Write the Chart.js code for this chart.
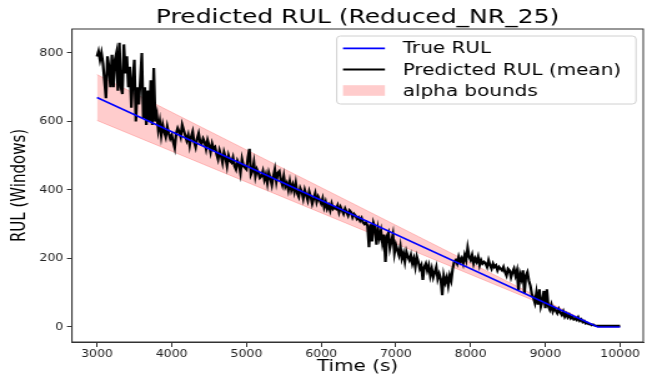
<!DOCTYPE html>
<html>
<head>
<meta charset="utf-8">
<script src="https://cdn.jsdelivr.net/npm/chart.js@4.4.1/dist/chart.umd.min.js"></script>
<style>
  html, body { margin: 0; padding: 0; background: #fff; overflow: hidden; }
  /* the figure is drawn narrow and widened, like the saved image */
  #wrap { width: 518px; height: 377px; transform: scaleX(1.249); transform-origin: 0 0; }
</style>
</head>
<body>
<div id="wrap"><canvas id="rul" width="518" height="377"></canvas></div>
<script>
const xTicks = [3000, 4000, 5000, 6000, 7000, 8000, 9000, 10000];
const yTicks = [0, 200, 400, 600, 800];

// true RUL and the alpha band around it
const trueTime = [3000, 9700, 10000];
const trueRul = [670, 0, 0];
const boundUpper = [737, 0, 0];
const boundLower = [603, 0, 0];

// predicted RUL (mean), one value every 20 s from 3000 s
const predStart = 3000;
const predStep = 20;
const predRul = [
  790, 805, 780, 800, 770, 720, 668, 790, 760, 700,
  795, 700, 780, 800, 690, 830, 700, 680, 825, 740,
  790, 700, 760, 640, 720, 780, 600, 700, 650, 720,
  800, 610, 700, 590, 690, 600, 720, 590, 756, 600,
  620, 575, 600, 560, 590, 570, 555, 585, 565, 550,
  560, 540, 523, 565, 580, 570, 555, 590, 575, 560,
  545, 560, 530, 555, 570, 540, 525, 550, 565, 540,
  535, 550, 540, 520, 545, 530, 510, 535, 520, 525,
  505, 490, 515, 500, 480, 510, 495, 470, 500, 485,
  480, 495, 470, 460, 485, 475, 450, 490, 470, 465,
  460, 495, 520, 445, 455, 480, 440, 460, 450, 435,
  440, 455, 430, 445, 420, 450, 435, 415, 440, 460,
  425, 450, 455, 430, 415, 440, 410, 420, 400, 425,
  400, 415, 395, 420, 390, 380, 405, 395, 375, 400,
  385, 370, 395, 380, 360, 375, 390, 365, 380, 370,
  360, 375, 350, 365, 345, 355, 340, 360, 345, 350,
  345, 355, 335, 350, 340, 330, 345, 335, 325, 340,
  335, 320, 330, 325, 315, 320, 310, 318, 305, 300,
  305, 295, 233, 300, 250, 303, 290, 240, 285, 260,
  280, 245, 270, 190, 265, 275, 230, 250, 270, 215,
  240, 225, 210, 235, 200, 215, 190, 220, 205, 195,
  210, 185, 200, 175, 205, 190, 170, 180, 137, 175,
  185, 165, 180, 150, 170, 145, 160, 175, 140, 155,
  140, 93, 150, 130, 145, 120, 150, 135, 170, 190,
  195, 185, 205, 190, 200, 185, 210, 195, 231, 205,
  195, 210, 185, 200, 190, 205, 180, 195, 185, 190,
  185, 175, 195, 180, 170, 185, 175, 180, 165, 175,
  170, 165, 175, 160, 150, 170, 165, 145, 160, 170,
  150, 165, 108, 155, 140, 165, 99, 150, 160, 135,
  120, 95, 85, 70, 100, 65, 110, 60, 75, 105,
  55, 110, 60, 50, 65, 45, 55, 48, 40, 52,
  42, 35, 45, 30, 38, 28, 35, 25, 30, 22,
  25, 20, 28, 18, 22, 14, 17, 10, 12, 8,
  8, 5, 7, 4, 3, 3, 3, 3, 3, 3,
  3, 3, 3, 3, 3, 3, 3, 3, 3, 3,
  3
];

const FONT = 'DejaVu Sans';
const BAND = 'rgba(255, 0, 0, 0.2)';

const pairs = (xs, ys) => xs.map((x, i) => ({ x: x, y: ys[i] }));

// matplotlib-style box around the axes plus the legend in the top right
const framePlugin = {
  id: 'frameAndLegend',
  afterDraw(chart) {
    const ctx = chart.ctx;
    const a = chart.chartArea;
    ctx.save();
    ctx.strokeStyle = '#333';
    ctx.lineWidth = 1;
    ctx.strokeRect(a.left, a.top, a.right - a.left, a.bottom - a.top);

    // legend frame
    const bx = 269.6, by = 36, bw = 239.6, bh = 68;
    ctx.beginPath();
    ctx.roundRect(bx, by, bw, bh, 3);
    ctx.fillStyle = 'rgba(255, 255, 255, 0.8)';
    ctx.fill();
    ctx.strokeStyle = '#d0d0d0';
    ctx.stroke();

    const ds = chart.data.datasets;
    const items = [
      { label: ds[0].label, color: ds[0].borderColor, y: 48.3, patch: false },
      { label: ds[1].label, color: ds[1].borderColor, y: 69.5, patch: false },
      { label: ds[2].label, color: BAND, y: 90.5, patch: true }
    ];
    ctx.font = '16px "' + FONT + '"';
    ctx.textBaseline = 'middle';
    items.forEach(it => {
      if (it.patch) {
        ctx.fillStyle = it.color;
        ctx.fillRect(274.6, it.y - 5.3, 33.6, 10.6);
      } else {
        ctx.strokeStyle = it.color;
        ctx.lineWidth = 1.8;
        ctx.beginPath();
        ctx.moveTo(274.6, it.y);
        ctx.lineTo(308.2, it.y);
        ctx.stroke();
      }
      ctx.fillStyle = '#000';
      ctx.fillText(it.label, 322.4, it.y + 1);
    });
    ctx.restore();
  }
};

const ctx = document.getElementById('rul').getContext('2d');
new Chart(ctx, {
  type: 'line',
  data: {
    datasets: [
      {
        label: 'True RUL',
        data: pairs(trueTime, trueRul),
        borderColor: '#0000ff',
        borderWidth: 1.5,
        pointRadius: 0,
        fill: false,
        order: 0
      },
      {
        label: 'Predicted RUL (mean)',
        data: predRul.map((v, i) => ({ x: predStart + i * predStep, y: v })),
        borderColor: '#000000',
        borderWidth: 2.2,
        pointRadius: 0,
        fill: false,
        order: 1
      },
      {
        label: 'alpha bounds',
        data: pairs(trueTime, boundUpper),
        borderColor: BAND,
        backgroundColor: BAND,
        borderWidth: 1,
        pointRadius: 0,
        fill: '+1',
        order: 2
      },
      {
        label: 'lower bound',
        data: pairs(trueTime, boundLower),
        borderColor: BAND,
        borderWidth: 1,
        pointRadius: 0,
        fill: false,
        order: 3
      }
    ]
  },
  options: {
    animation: false,
    responsive: false,
    devicePixelRatio: 1,
    layout: { padding: { left: 0, right: 3, top: 0, bottom: 0 } },
    elements: { line: { tension: 0 } },
    plugins: {
      legend: { display: false },
      tooltip: { enabled: false },
      title: {
        display: true,
        text: 'Predicted RUL (Reduced_NR_25)',
        fullSize: false,
        color: '#000',
        font: { family: FONT, size: 20, weight: 'normal', lineHeight: 1 },
        padding: { top: 7.5, bottom: 1.5 }
      }
    },
    scales: {
      x: {
        type: 'linear',
        min: 2665,
        max: 10310,
        afterBuildTicks: s => { s.ticks = xTicks.map(v => ({ value: v })); },
        afterFit: s => { s.height = 35; },
        grid: { drawOnChartArea: false, color: '#333', tickLength: 5 },
        border: { color: '#333' },
        ticks: {
          autoSkip: false,
          maxRotation: 0,
          padding: 1,
          color: '#222',
          font: { family: FONT, size: 10 },
          callback: v => String(v)
        },
        title: {
          display: true,
          text: 'Time (s)',
          color: '#000',
          font: { family: FONT, size: 16 },
          padding: { top: 0, bottom: 1 }
        }
      },
      y: {
        type: 'linear',
        min: -44,
        max: 870,
        afterBuildTicks: s => { s.ticks = yTicks.map(v => ({ value: v })); },
        afterFit: s => { s.width = 57.6; },
        grid: { drawOnChartArea: false, color: '#333', tickLength: 4 },
        border: { color: '#333' },
        ticks: {
          padding: 3,
          color: '#222',
          font: { family: FONT, size: 10 },
          callback: v => String(v)
        },
        title: {
          display: true,
          text: 'RUL (Windows)',
          color: '#000',
          font: { family: FONT, size: 15 },
          padding: { top: 7, bottom: 0 }
        }
      }
    }
  },
  plugins: [framePlugin]
});
</script>
</body>
</html>
